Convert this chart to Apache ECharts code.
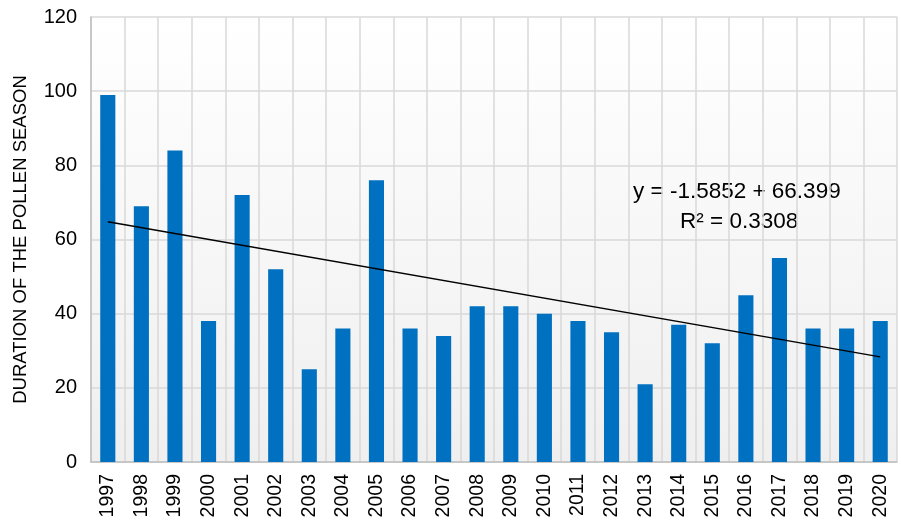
<!DOCTYPE html>
<html lang="en">
<head>
    <meta charset="UTF-8">
    <title>Duration of the pollen season</title>
    <script src="https://cdn.jsdelivr.net/npm/echarts@6/dist/echarts.min.js"></script>
    <style>
        html, body { margin: 0; padding: 0; background: #fff; }
    </style>
</head>
<body>
<div id="main" style="width: 901px;height:525px;"></div>
<script type="text/javascript">
    // data
    var years = ['1997', '1998', '1999', '2000', '2001', '2002', '2003', '2004', '2005', '2006', '2007', '2008',
        '2009', '2010', '2011', '2012', '2013', '2014', '2015', '2016', '2017', '2018', '2019', '2020'];
    var duration = [99, 69, 84, 38, 72, 52, 25, 36, 76, 36, 34, 42, 42, 40, 38, 35, 21, 37, 32, 45, 55, 36, 36, 38];
    // trend line end points (first and last year)
    var trendEnds = [64.81, 28.35];
    var equationLines = ['y = -1.5852 + 66.399', 'R² = 0.3308'];
    var yTicks = [0, 20, 40, 60, 80, 100, 120];

    var myChart = echarts.init(document.getElementById('main'));
    myChart.setOption({
        animation: false,
        textStyle: { fontFamily: 'Liberation Sans' },
        grid: {
            left: 91, right: 4, top: 17, bottom: 63,
            show: true,
            borderWidth: 0,
            backgroundColor: {
                type: 'linear', x: 0, y: 0, x2: 0, y2: 1,
                colorStops: [{ offset: 0, color: '#ffffff' }, { offset: 1, color: '#efefef' }]
            }
        },
        xAxis: {
            type: 'category',
            data: years,
            axisLine: { lineStyle: { color: '#bfbfbf', width: 1.5 } },
            axisTick: { show: false },
            splitLine: { show: true, lineStyle: { color: '#d9d9d9', width: 1.5 } },
            axisLabel: { rotate: 90, color: '#000', fontSize: 19.5, margin: 12 }
        },
        yAxis: {
            type: 'value',
            min: yTicks[0],
            max: yTicks[yTicks.length - 1],
            interval: 20,
            name: 'DURATION OF THE POLLEN SEASON',
            nameLocation: 'middle',
            nameGap: 61,
            nameTextStyle: { fontSize: 18.5, color: '#000' },
            axisLine: { show: true, lineStyle: { color: '#bfbfbf', width: 1.5 } },
            axisTick: { show: false },
            splitLine: { lineStyle: { color: '#d9d9d9', width: 1.5 } },
            axisLabel: { color: '#000', fontSize: 20, margin: 14 }
        },
        series: [{
            type: 'bar',
            data: duration,
            barWidth: '45%',
            itemStyle: { color: '#0070c0' },
            markLine: {
                symbol: 'none',
                silent: true,
                label: { show: false },
                lineStyle: { color: '#000', width: 1.5, type: 'solid' },
                data: [[
                    { coord: [years[0], trendEnds[0]] },
                    { coord: [years[years.length - 1], trendEnds[1]] }
                ]]
            }
        }],
        graphic: [
            {
                type: 'text', left: 633, top: 180,
                style: { text: equationLines[0], fontSize: 22.5, fill: '#000', fontFamily: 'Liberation Sans' }
            },
            {
                type: 'text', left: 680, top: 210,
                style: { text: equationLines[1], fontSize: 22.5, fill: '#000', fontFamily: 'Liberation Sans' }
            }
        ]
    });
</script>
</body>
</html>
